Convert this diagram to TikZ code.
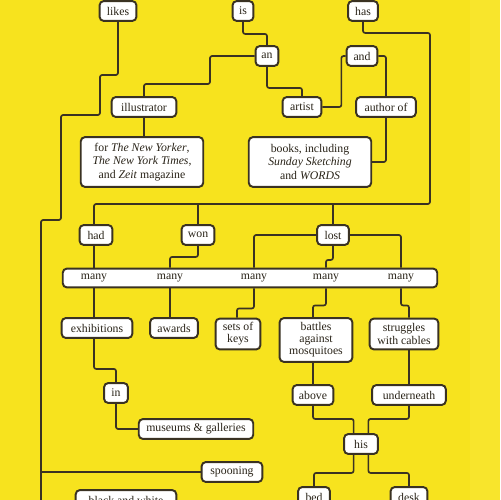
\documentclass[tikz,border=0pt]{standalone}
\usepackage{fontspec}
\setmainfont{Liberation Serif}
\usepackage{xcolor}
\usepackage{tikz}
\usetikzlibrary{positioning}

\newdimen\pixel \pixel=0.5669pt
\definecolor{pagey}{RGB}{247,227,30}
\definecolor{inkc}{RGB}{58,50,34}

\begin{document}
\begin{tikzpicture}[
  x=0.02cm, y=-0.02cm,
  font=\fontsize{6.7}{7.6}\selectfont,
  link/.style={draw=inkc, line width=0.95pt, rounded corners=1.2pt},
  word/.style={rectangle, rounded corners=2.4pt, draw=inkc, line width=1.1pt,
               fill=white, text=inkc!70!black, minimum height=20\pixel,
               inner xsep=2pt, inner ysep=1pt},
  block/.style={word, align=center, inner xsep=1pt},
  tag/.style={inner sep=0pt, text=inkc!70!black},
]

% Page
\useasboundingbox (0,0) rectangle (500,500);
\clip (0,0) rectangle (500,500);
\fill[pagey] (0,0) rectangle (500,500);
\fill[pagey!94!white] (470,0) rectangle (500,500);

% Top row
\node[word, minimum width=37\pixel] (likes) at (118,11) {likes};
\node[word, minimum width=21\pixel] (is)    at (243,11) {is};
\node[word, minimum width=30\pixel] (has)   at (363,11) {has};

\node[word, minimum width=23\pixel] (an)  at (267,56) {an};
\node[word, minimum width=31\pixel] (and) at (362,56) {and};

\node[word, minimum width=65\pixel] (illustrator) at (144,107) {illustrator};
\node[word, minimum width=39\pixel] (artist)      at (302,107) {artist};
\node[word, minimum width=60\pixel] (author)      at (386,107) {author of};

% Text blocks
\node[block, minimum width=123\pixel, minimum height=50\pixel] (newyorker) at (142,162)
  {for \textit{The New Yorker},\\
   \textit{The New York Times},\\
   and \textit{Zeit} magazine};
\node[block, minimum width=123\pixel, minimum height=50\pixel] (books) at (310,162)
  {books, including\\
   \textit{Sunday Sketching}\\
   and \textit{WORDS}};

% Verbs
\node[word, minimum width=33\pixel] (had)  at (96,235)  {had};
\node[word, minimum width=33\pixel] (won)  at (198,235) {won};
\node[word, minimum width=32\pixel] (lost) at (333,235) {lost};

% The many bar
\node[word, minimum width=376\pixel, minimum height=19\pixel] (bar) at (250,278) {};
\node[tag] (m1) at (94,278)  {many};
\node[tag] (m2) at (170,278) {many};
\node[tag] (m3) at (254,278) {many};
\node[tag] (m4) at (326,278) {many};
\node[tag] (m5) at (401,278) {many};

% Things
\node[word, minimum width=71\pixel] (exhibitions) at (97,328)  {exhibitions};
\node[word, minimum width=48\pixel] (awards)      at (174,328) {awards};
\node[block, font=\fontsize{6.7}{6.9}\selectfont,
      minimum width=45\pixel, minimum height=31\pixel] (keys) at (238,334)
  {sets of\\ keys};
\node[block, font=\fontsize{6.7}{6.9}\selectfont,
      minimum width=73\pixel, minimum height=44\pixel] (battles) at (316,340)
  {battles\\ against\\ mosquitoes};
\node[block, font=\fontsize{6.7}{6.9}\selectfont,
      minimum width=69\pixel, minimum height=31\pixel] (struggles) at (404,334)
  {struggles\\ with cables};

\node[word, minimum width=24\pixel]  (in)        at (116,393) {in};
\node[word, minimum width=115\pixel] (museums)   at (196,429) {museums \& galleries};
\node[word, minimum width=41\pixel]  (above)     at (313,395) {above};
\node[word, minimum width=74\pixel]  (underneath) at (409,395) {underneath};
\node[word, minimum width=34\pixel]  (his)       at (361,444) {his};
\node[word, minimum width=61\pixel]  (spooning)  at (232,472) {spooning};

% Bottom edge (cut by the page)
\node[word, minimum width=101\pixel] (blackwhite) at (126,500) {black and white};
\node[word, minimum width=32\pixel]  (bed)  at (314,497) {bed};
\node[word, minimum width=37\pixel]  (desk) at (409,497) {desk};

% Helper points
\coordinate (railE)    at (430,204);
\coordinate (trunk)    at (41,472);
\coordinate (trunkEnd) at (41,505);

% Connectors
\begin{scope}[link]
\draw (likes.south) |- (100,75) |- (61,115) |- (41,220) -- (trunkEnd);
\draw (trunk) -- (spooning.west);

\draw (is.south) -- ++(0,12) -| (an.north);
\draw (an.west) -| (210,84) -| (illustrator.north);
\draw (an.south) -- ++(0,21) -| (artist.north);
\draw (artist.east) -- ++(19,0) |- (and.west);
\draw (and.east) -| (author.north);
\draw (author.south) |- (books.east);
\draw (illustrator.south) -- (illustrator.south |- newyorker.north);

\draw (has.south) -- ++(0,11) -| (railE) -| (m1 |- had.north);
\draw (won.north) -- (won.north |- railE);
\draw (lost.north) -- (lost.north |- railE);

\draw (m1 |- had.south) -- (m1 |- bar.north);
\draw (won.south) -- ++(0,11) -| (m2 |- bar.north);
\draw (lost.west) -| (m3 |- bar.north);
\draw (lost.south) -- ++(0,14) -| (m4 |- bar.north);
\draw (lost.east) -| (m5 |- bar.north);

\draw (m1 |- bar.south) -- (m1 |- exhibitions.north);
\draw (m2 |- bar.south) -- (m2 |- awards.north);
\draw (m3 |- bar.south) -- ++(0,20) -| ([xshift=-0.6pt]keys.north);
\draw (m4 |- bar.south) -- ++(0,17) -| (battles.north -| above);
\draw (m5 |- bar.south) -- ++(0,17) -| (struggles.north -| underneath);

\draw (m1 |- exhibitions.south) -- ++(0,30) -| (in.north);
\draw (in.south) |- (museums.west);

\draw (battles.south -| above) -- (above.north);
\draw (struggles.south -| underneath) -- (underneath.north);
\draw (above.south) -- ++(0,13) -| ([xshift=-4.2pt]his.north);
\draw (underneath.south) -- ++(0,13) -| ([xshift=4.2pt]his.north);
\draw ([xshift=-4.2pt]his.south) -- ++(0,18) -| (bed.north);
\draw ([xshift=4.2pt]his.south) -- ++(0,18) -| (desk.north);
\end{scope}

\end{tikzpicture}
\end{document}
